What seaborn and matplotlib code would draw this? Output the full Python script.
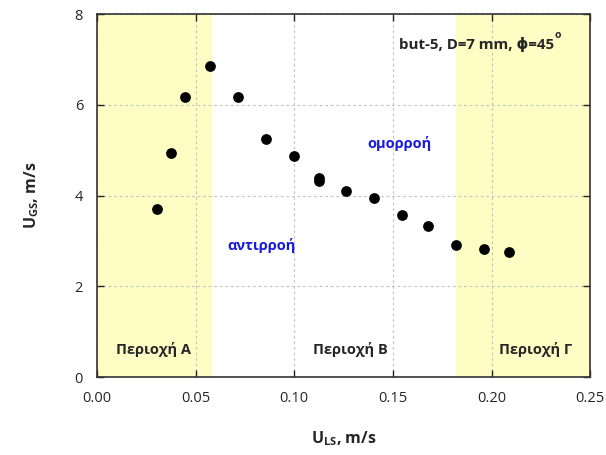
import numpy as np
import pandas as pd
import seaborn as sns
import matplotlib.pyplot as plt

# data
u_ls = [0.0304, 0.0375, 0.0446, 0.0573, 0.0715, 0.0857, 0.0999, 0.1126, 0.1126,
        0.1263, 0.1405, 0.1547, 0.1680, 0.1820, 0.1960, 0.2090]
u_gs = [3.70, 4.93, 6.17, 6.85, 6.17, 5.24, 4.87, 4.38, 4.32,
        4.10, 3.94, 3.57, 3.33, 2.91, 2.82, 2.75]
x_ticks = [0.00, 0.05, 0.10, 0.15, 0.20, 0.25]
y_ticks = [0, 2, 4, 6, 8]
region_a = (0.0, 0.0585)
region_c = (0.182, 0.25)

df = pd.DataFrame({'ULS': u_ls, 'UGS': u_gs})

sns.set_style('ticks')
plt.rcParams['font.family'] = ['Open Sans', 'DejaVu Sans']
plt.rcParams['mathtext.fontset'] = 'custom'
plt.rcParams['mathtext.bf'] = 'Open Sans:bold'
plt.rcParams['mathtext.rm'] = 'Open Sans:bold'

fig = plt.figure(figsize=(6.06, 4.55), dpi=100)
ax = fig.add_axes([0.160, 0.171, 0.814, 0.798])

# shaded regions
ax.axvspan(*region_a, color='#fdfdc4', zorder=0, lw=0)
ax.axvspan(*region_c, color='#fdfdc4', zorder=0, lw=0)

sns.scatterplot(data=df, x='ULS', y='UGS', color='black', s=60,
                edgecolor='black', linewidth=0, ax=ax, zorder=3)

ax.set_xlim(0, 0.25)
ax.set_ylim(0, 8)
ax.set_xticks(x_ticks)
ax.set_yticks(y_ticks)
ax.set_xticklabels([f'{t:.2f}' for t in x_ticks])
ax.grid(True, ls=(0, (2.5, 2.5)), color='#c4c4c4', lw=0.8)
ax.set_axisbelow(True)
ax.tick_params(direction='in', top=True, right=True, length=5,
               labelsize=10.5, color='#222222', width=1)
ax.tick_params(axis='x', pad=10)
ax.tick_params(axis='y', pad=10)
for sp in ax.spines.values():
    sp.set_color('#333333')
    sp.set_linewidth(1.2)

ax.set_xlabel(r'U$_{\mathbf{LS}}$, m/s', fontsize=11.5, fontweight='bold', labelpad=17)
ax.set_ylabel(r'U$_{\mathbf{GS}}$, m/s', fontsize=11.5, fontweight='bold', labelpad=24)

bold = dict(fontsize=10.5, fontweight='bold', ha='center', va='center')
t = ax.text(0.1925, 7.33, 'but-5, D=7 mm, ϕ=45', fontsize=10.8,
            fontweight='bold', ha='center', va='center')
ax.annotate('o', xy=(1.0, 0.72), xycoords=t, fontsize=7.5, fontweight='bold',
            ha='left', va='bottom')
ax.text(0.0285, 0.6, 'Περιοχή Α', **bold)
ax.text(0.1285, 0.6, 'Περιοχή Β', **bold)
ax.text(0.2225, 0.6, 'Περιοχή Γ', **bold)
ax.text(0.0835, 2.9, 'αντιρροή', color='#1a1adb', **bold)
ax.text(0.1535, 5.15, 'ομορροή', color='#1a1adb', **bold)

fig.savefig('out.png', dpi=100)
